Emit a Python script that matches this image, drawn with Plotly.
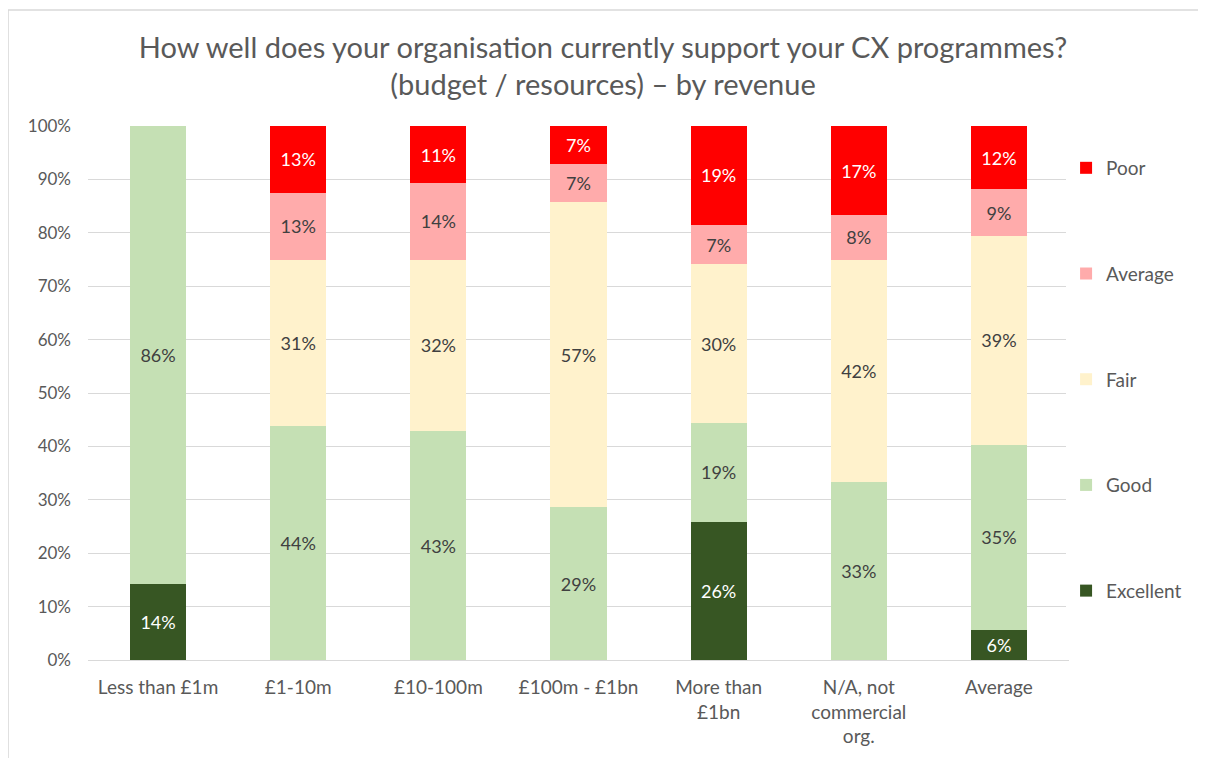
import plotly.graph_objects as go

# Kategoriler (gelir grubu)
categories = ["Less than £1m", "£1-10m", "£10-100m", "£100m - £1bn",
              "More than<br>£1bn", "N/A, not<br>commercial<br>org.", "Average"]

# Seri değerleri (%)
excellent = [14.29, 0, 0, 0, 25.93, 0, 5.6]
good = [85.71, 43.75, 42.86, 28.57, 18.52, 33.33, 34.7]
fair = [0, 31.25, 32.14, 57.14, 29.63, 41.67, 39.1]
average = [0, 12.5, 14.29, 7.14, 7.41, 8.33, 8.8]
poor = [0, 12.5, 10.71, 7.14, 18.52, 16.67, 11.8]

series = [
    ("Excellent", excellent, "#375623", "white"),
    ("Good", good, "#C5E0B4", "#404040"),
    ("Fair", fair, "#FFF2CC", "#404040"),
    ("Average", average, "#FFABAB", "#404040"),
    ("Poor", poor, "#FF0000", "white"),
]

FONT = "Lato"

def label(v):
    # Excel tarzı yuvarlama (yarım yukarı)
    return f"{int(v + 0.5)}%" if v > 0 else ""

fig = go.Figure()
for i, (name, vals, color, tcolor) in enumerate(series):
    fig.add_trace(go.Bar(
        x=categories, y=vals, name=name, legendgroup=name,
        legendrank=1000 - i,  # Poor en üstte
        marker=dict(color=color, line=dict(width=0)),
        text=[label(v) for v in vals], textposition="inside",
        insidetextanchor="middle", textangle=0,
        textfont=dict(family=FONT, size=18, color=tcolor),
    ))

# sayfa gövdesinin 8px kenar boşluğu hesaba katıldı
fig.update_layout(
    barmode="stack", bargap=0.6,
    width=1190, height=750,
    margin=dict(l=80, r=128, t=118, b=98),
    paper_bgcolor="white", plot_bgcolor="white",
    font=dict(family=FONT, size=17, color="#595959"),
    title=dict(
        text="How well does your organisation currently support your CX programmes?<br>(budget / resources) – by revenue",
        x=0.5, xref="container", xanchor="center", y=0.934, yanchor="middle",
        font=dict(family=FONT, size=29, color="#595959"),
    ),
    xaxis=dict(showline=True, linecolor="#D9D9D9", linewidth=1, ticks="",
               ticklabelstandoff=10,
               tickfont=dict(size=19, color="#595959")),
    yaxis=dict(range=[0, 100], dtick=10, ticksuffix="%", showgrid=True,
               gridcolor="#D9D9D9", zeroline=False, showline=False,
               ticklabelstandoff=16,
               tickfont=dict(size=17, color="#595959")),
    legend=dict(x=0.996, xanchor="left", y=0.957, yanchor="top",
                traceorder="grouped", tracegroupgap=78,
                font=dict(size=19, color="#595959"), itemwidth=30),
    shapes=[dict(type="rect", xref="paper", yref="paper",
                 x0=-0.0815, x1=1.2, y0=-0.3, y1=1.217,
                 line=dict(color="#D9D9D9", width=1.5), layer="below")],
)

fig.write_html("out.html")
